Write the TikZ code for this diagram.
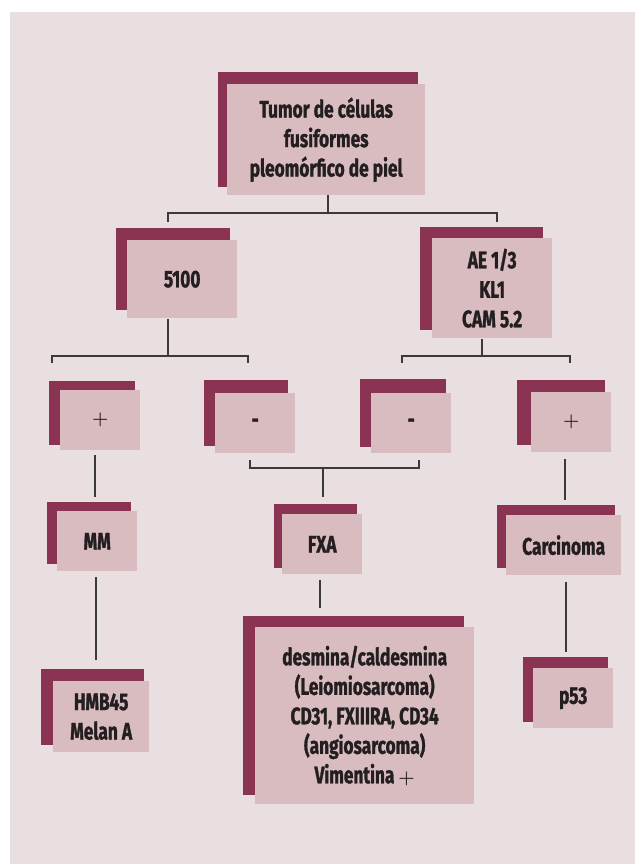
\documentclass[tikz,border=0pt]{standalone}
\usepackage{fontspec}
\setmainfont{Fira Sans}[FakeStretch=0.72, BoldFeatures={FakeBold=1.2}]
\definecolor{bgc}{HTML}{EADFE0}
\definecolor{darkc}{HTML}{8B3352}
\definecolor{lightc}{HTML}{D9BCC0}
\definecolor{txtc}{HTML}{231F20}
\definecolor{linec}{HTML}{3A3A3A}
\tikzset{
  lbox/.style={fill=lightc, anchor=north west, inner sep=0pt, align=center,
    text=txtc, font=\bfseries\fontsize{24}{29.5}\selectfont},
  shadowc/.style={fill=darkc},
  conn/.style={draw=linec, line width=1.1pt}
}
\newcommand\bigplus{\scalebox{0.75}{\boldmath$+$}}
\begin{document}
\begin{tikzpicture}[x=1pt,y=-1pt]
\useasboundingbox (0,0) rectangle (635,864);
\fill[white] (0,0) rectangle (635,864);
\fill[bgc] (10,12) rectangle (635,864);
% shadows
\fill[shadowc] (218,72) rectangle (418,187);
\fill[shadowc] (116,228) rectangle (230,310);
\fill[shadowc] (420,227) rectangle (543,330);
\fill[shadowc] (49,381) rectangle (135,445);
\fill[shadowc] (204,380) rectangle (288,446);
\fill[shadowc] (360,379) rectangle (446,447);
\fill[shadowc] (517,380) rectangle (605,445);
\fill[shadowc] (47,502) rectangle (131,564);
\fill[shadowc] (274,504) rectangle (357,568);
\fill[shadowc] (497,505) rectangle (615,568);
\fill[shadowc] (41,669) rectangle (144,745);
\fill[shadowc] (243,616) rectangle (464,795);
\fill[shadowc] (523,657) rectangle (608,722);
% boxes
\node[lbox, minimum width=198pt, minimum height=111pt] (title) at (227,84) {Tumor de células\\fusiformes\\pleomórfico de piel};
\node[lbox, minimum width=110pt, minimum height=78pt] (s100) at (127,240) {5100};
\node[lbox, minimum width=120pt, minimum height=100pt] (ae) at (432,238) {AE 1/3\\KL1\\CAM 5.2};
\node[lbox, minimum width=80pt, minimum height=60pt] (plusL) at (60,390) {\bigplus};
\node[lbox, minimum width=80pt, minimum height=60pt] (minusL) at (215,393) {-};
\node[lbox, minimum width=80pt, minimum height=60pt] (minusR) at (371,393) {-};
\node[lbox, minimum width=80pt, minimum height=60pt] (plusR) at (531,392) {\bigplus};
\node[lbox, minimum width=80pt, minimum height=60pt] (mm) at (57,511) {MM};
\node[lbox, minimum width=80pt, minimum height=60pt] (fxa) at (282,514) {FXA};
\node[lbox, minimum width=115pt, minimum height=60pt] (carc) at (506,515) {Carcinoma};
\node[lbox, minimum width=96pt, minimum height=71pt] (hmb) at (53,681) {HMB45\\Melan A};
\node[lbox, minimum width=219pt, minimum height=177pt] (big) at (255,627) {desmina/caldesmina\\(Leiomiosarcoma)\\CD31, FXIIIRA, CD34\\(angiosarcoma)\\Vimentina \bigplus};
\node[lbox, minimum width=80pt, minimum height=60pt] (p53) at (533,668) {p53};
% connector coordinates
\coordinate (t0) at (328,195); \coordinate (t1) at (328,213);
\coordinate (tl) at (168,213); \coordinate (tle) at (168,222);
\coordinate (tr) at (497,213); \coordinate (tre) at (497,222);
\coordinate (s0) at (168,319); \coordinate (s1) at (168,356);
\coordinate (sl) at (52,356); \coordinate (sle) at (52,363);
\coordinate (sr) at (248,356); \coordinate (sre) at (248,363);
\coordinate (a0) at (482,339); \coordinate (a1) at (482,356);
\coordinate (al) at (402,356); \coordinate (ale) at (402,363);
\coordinate (ar) at (570,356); \coordinate (are) at (570,363);
\coordinate (p0) at (95,455); \coordinate (p1) at (95,497);
\coordinate (ml) at (250,460); \coordinate (mlc) at (250,468);
\coordinate (mr) at (419,460); \coordinate (mrc) at (419,468);
\coordinate (mc) at (323,468); \coordinate (mce) at (323,497);
\coordinate (q0) at (565,459); \coordinate (q1) at (565,500);
\coordinate (n0) at (96,577); \coordinate (n1) at (96,660);
\coordinate (f0) at (320,580); \coordinate (f1) at (320,608);
\coordinate (c0) at (566,582); \coordinate (c1) at (566,652);
% connectors
\draw[conn] (t0) -- (t1);
\draw[conn] (tle) -- (tl) -- (tr) -- (tre);
\draw[conn] (s0) -- (s1);
\draw[conn] (sle) -- (sl) -- (sr) -- (sre);
\draw[conn] (a0) -- (a1);
\draw[conn] (ale) -- (al) -- (ar) -- (are);
\draw[conn] (p0) -- (p1);
\draw[conn] (ml) -- (mlc) -- (mrc) -- (mr);
\draw[conn] (mc) -- (mce);
\draw[conn] (q0) -- (q1);
\draw[conn] (n0) -- (n1);
\draw[conn] (f0) -- (f1);
\draw[conn] (c0) -- (c1);
\end{tikzpicture}
\end{document}
